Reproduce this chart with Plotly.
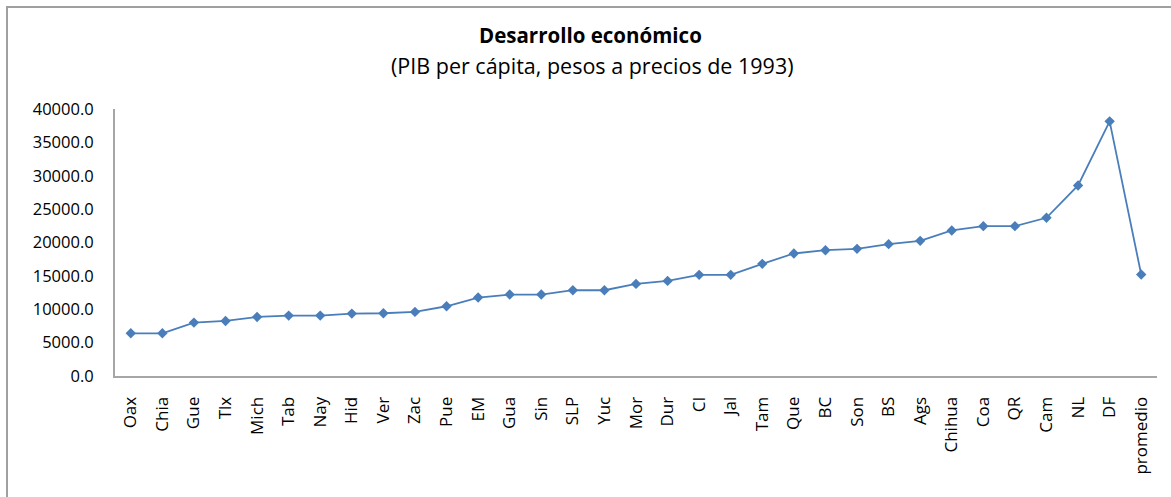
import plotly.graph_objects as go

estados = ["Oax", "Chia", "Gue", "Tlx", "Mich", "Tab", "Nay", "Hid", "Ver", "Zac",
           "Pue", "EM", "Gua", "Sin", "SLP", "Yuc", "Mor", "Dur", "CI", "Jal",
           "Tam", "Que", "BC", "Son", "BS", "Ags", "Chihua", "Coa", "QR", "Cam",
           "NL", "DF", "promedio"]
pib_per_capita = [6400, 6400, 8000, 8250, 8850, 9050, 9050, 9350, 9400, 9600,
                  10450, 11750, 12200, 12200, 12850, 12850, 13800, 14250, 15150, 15150,
                  16800, 18350, 18850, 19050, 19750, 20250, 21800, 22450, 22450, 23700,
                  28550, 38150, 15200]
y_ticks = [0, 5000, 10000, 15000, 20000, 25000, 30000, 35000, 40000]
titulo = "Desarrollo económico"
subtitulo = "(PIB per cápita, pesos a precios de 1993)"

W, H = 1171, 497
L, R, T, B = 115, 14, 109, 121
pw, ph = W - L - R, H - T - B

def px_to_paper_x(px):
    return (px - L) / pw

def px_to_paper_y(py):
    return (H - B - py) / ph

line_color = "#4a7ebb"
axis_color = "#a6a6a6"
font_family = "Open Sans, Noto Sans, sans-serif"

fig = go.Figure()
fig.add_trace(go.Scatter(
    x=estados, y=pib_per_capita, mode="lines+markers",
    line=dict(color=line_color, width=1.8),
    marker=dict(symbol="diamond", size=8, color=line_color),
    showlegend=False, cliponaxis=False, hoverinfo="skip",
))

fig.update_layout(
    width=W, height=H,
    margin=dict(l=L, r=R, t=T, b=B, pad=0, autoexpand=False),
    paper_bgcolor="white", plot_bgcolor="white",
    hovermode=False,
    font=dict(family=font_family, size=16, color="#000000"),
    xaxis=dict(
        type="category", range=[-0.5, len(estados) - 0.5],
        showgrid=False, zeroline=False, automargin=False,
        showline=True, linecolor=axis_color, linewidth=2,
        ticks="outside", ticklen=12, tickcolor="rgba(0,0,0,0)",
        tickangle=-90, tickfont=dict(size=17),
    ),
    yaxis=dict(
        range=[0, 40000], tickvals=y_ticks,
        ticktext=[f"{v:.1f}" for v in y_ticks],
        showgrid=False, zeroline=False, automargin=False,
        showline=True, linecolor=axis_color, linewidth=2,
        ticks="outside", ticklen=16, tickcolor="rgba(0,0,0,0)",
        tickfont=dict(size=16.5),
    ),
    shapes=[dict(
        type="rect", xref="paper", yref="paper",
        x0=px_to_paper_x(7), x1=px_to_paper_x(1180),
        y0=px_to_paper_y(505), y1=px_to_paper_y(7),
        line=dict(color="#a0a0a0", width=2), fillcolor="rgba(0,0,0,0)",
        layer="below",
    )],
    annotations=[
        dict(text=f"<b>{titulo}</b>", xref="paper", yref="paper",
             x=px_to_paper_x(590), y=px_to_paper_y(35), showarrow=False,
             xanchor="center", yanchor="middle", font=dict(size=20.5)),
        dict(text=subtitulo, xref="paper", yref="paper",
             x=px_to_paper_x(592), y=px_to_paper_y(65), showarrow=False,
             xanchor="center", yanchor="middle", font=dict(size=21.5)),
    ],
)

fig.write_html("out.html", config={"displayModeBar": False},
               post_script="document.body.style.margin='0';")
